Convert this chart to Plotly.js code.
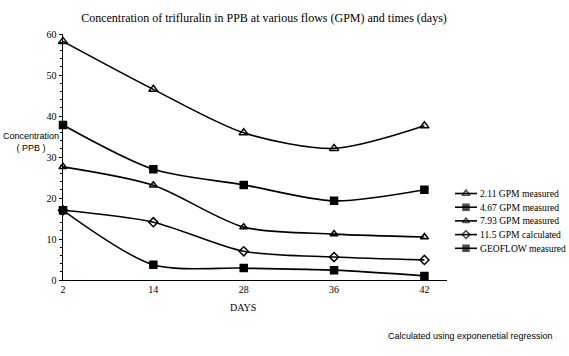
<!DOCTYPE html>
<html>
<head>
<meta charset="utf-8">
<script src="https://cdn.plot.ly/plotly-3.0.1.min.js"></script>
<style>html,body{margin:0;padding:0;background:#fff}#chart{width:569px;height:356px}</style>
</head>
<body>
<div id="chart"></div>
<script>
const days = ['2', '14', '28', '36', '42'];
const gpm211 = [58.2, 46.5, 35.9, 32.1, 37.6];
const gpm467 = [37.8, 27.0, 23.2, 19.3, 22.0];
const gpm793 = [27.6, 23.1, 12.9, 11.2, 10.5];
const gpm115 = [17.0, 14.1, 7.0, 5.6, 4.9];
const geoflow = [17.0, 3.7, 2.9, 2.4, 1.0];
const names = ['2.11 GPM measured', '4.67 GPM measured', '7.93 GPM measured', '11.5 GPM calculated', 'GEOFLOW measured'];
const yTicks = [0, 10, 20, 30, 40, 50, 60];

const serif = 'Liberation Serif, Times New Roman, serif';
const sans = 'Liberation Sans, Arial, sans-serif';
const series = [gpm211, gpm467, gpm793, gpm115, geoflow];
const symbols = ['triangle-up-open', 'square', 'triangle-up-open', 'diamond-open', 'square'];
const sizes = [8, 7, 7, 7, 7];

// layout geometry (pixels)
const W = 569, H = 356, L = 63, T = 34, B = 76, plotW = 384;
const paperW = W - L, paperH = H - T - B;
const px = v => (v - L) / paperW;
const py = v => (H - B - v) / paperH;

const traces = series.map((s, i) => ({
  x: days, y: s, name: names[i], type: 'scatter', mode: 'lines+markers',
  line: {color: '#000', width: 1.6, shape: 'spline', smoothing: 0.8},
  marker: {symbol: symbols[i], size: sizes[i], color: '#000', line: {color: '#000', width: 1.5}},
  cliponaxis: false, showlegend: false
}));

// custom compact legend on a pixel-scaled helper axis
const legTop = 193.5, legStep = 13.7, legX0 = 455, legX1 = 477, legText = 478;
const legendAnn = [];
names.forEach((n, i) => {
  const yy = legTop + i * legStep;
  traces.push({
    x: [legX0, (legX0 + legX1) / 2, legX1], y: [yy, yy, yy], xaxis: 'x2', yaxis: 'y2',
    type: 'scatter', mode: 'lines+markers', showlegend: false, cliponaxis: false,
    line: {color: '#000', width: 1.6},
    marker: {symbol: symbols[i], size: [0, sizes[i] - 1, 0], color: '#000', line: {color: '#000', width: 1.5}}
  });
  legendAnn.push({text: n, xref: 'x2', yref: 'y2', x: legText, y: yy, xanchor: 'left', yanchor: 'middle',
    showarrow: false, font: {family: serif, size: 9.6, color: '#000'}});
});

const layout = {
  width: W, height: H,
  margin: {l: L, r: 0, t: T, b: B, autoexpand: false},
  paper_bgcolor: '#fff', plot_bgcolor: 'rgba(0,0,0,0)',
  showlegend: false,
  title: {text: 'Concentration of trifluralin in PPB at various flows (GPM) and times (days)',
          font: {family: serif, size: 12, color: '#000'}, xref: 'container', x: 264 / W, xanchor: 'center',
          yref: 'container', y: 1 - 18 / H, yanchor: 'middle'},
  xaxis: {type: 'category', domain: [0, plotW / paperW], range: [0, 4.25], showgrid: false, zeroline: false,
          showline: true, linecolor: '#000', linewidth: 1.2, ticks: '',
          tickfont: {family: serif, size: 10, color: '#000'}, fixedrange: true},
  yaxis: {range: [0, 60], tickvals: yTicks, showgrid: false, zeroline: false,
          showline: true, linecolor: '#000', linewidth: 1.5, ticks: 'outside', ticklen: 3, tickcolor: '#000',
          minor: {dtick: 2, ticks: 'outside', ticklen: 2, tickcolor: '#000'},
          tickfont: {family: serif, size: 10, color: '#000'}, fixedrange: true},
  xaxis2: {domain: [px(legX0 - 10), 1], range: [legX0 - 10, W], visible: false, fixedrange: true},
  yaxis2: {domain: [0, 1], range: [H - B, T], anchor: 'x2', visible: false, fixedrange: true},
  annotations: [
    {text: 'Concentration<br>( PPB )', xref: 'paper', yref: 'paper', x: px(31), y: py(142),
     xanchor: 'center', yanchor: 'middle', showarrow: false, font: {family: sans, size: 9, color: '#000'}},
    {text: 'DAYS', xref: 'paper', yref: 'paper', x: px(243), y: py(307), xanchor: 'center', yanchor: 'middle',
     showarrow: false, font: {family: serif, size: 10, color: '#000'}},
    {text: 'Calculated using exponenetial regression', xref: 'paper', yref: 'paper', x: px(386), y: py(336),
     xanchor: 'left', yanchor: 'middle', showarrow: false, font: {family: sans, size: 9, color: '#000'}}
  ].concat(legendAnn)
};
Plotly.newPlot('chart', traces, layout, {displayModeBar: false, staticPlot: true});
</script>
</body>
</html>
